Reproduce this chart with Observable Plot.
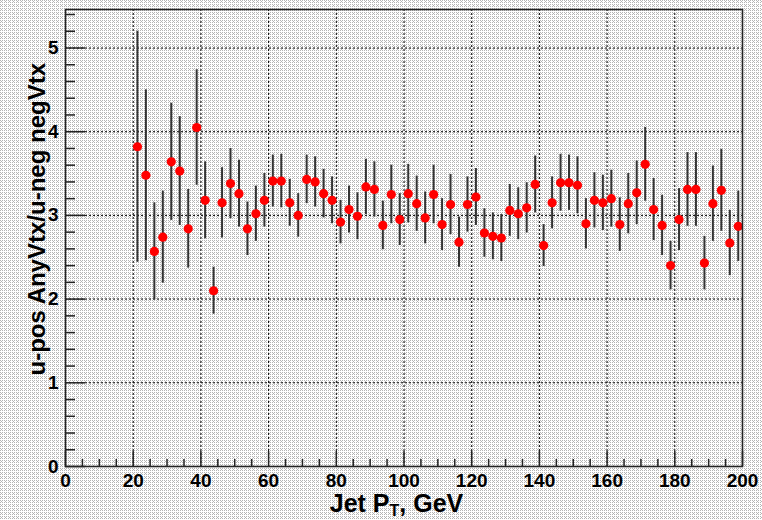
<!DOCTYPE html>
<html>
<head>
<meta charset="utf-8">
<script src="https://cdn.jsdelivr.net/npm/d3@7"></script>
<script src="https://cdn.jsdelivr.net/npm/@observablehq/plot@0.6"></script>
<style>
  html, body { margin: 0; padding: 0; background: #ffffff; }
  body { width: 762px; height: 520px; overflow: hidden; }
  svg { background: transparent !important; display: block; }
</style>
</head>
<body>
<div id="chart"></div>
<script>
// Bin centers (Jet pT, GeV)
const ptBins = [21.25, 23.75, 26.25, 28.75, 31.25, 33.75, 36.25, 38.75, 41.25, 43.75, 46.25, 48.75,
  51.25, 53.75, 56.25, 58.75, 61.25, 63.75, 66.25, 68.75, 71.25, 73.75,
  76.25, 78.75, 81.25, 83.75, 86.25, 88.75, 91.25, 93.75, 96.25, 98.75,
  101.25, 103.75, 106.25, 108.75, 111.25, 113.75, 116.25, 118.75, 121.25, 123.75,
  126.25, 128.75, 131.25, 133.75, 136.25, 138.75, 141.25, 143.75, 146.25, 148.75,
  151.25, 153.75, 156.25, 158.75, 161.25, 163.75, 166.25, 168.75, 171.25, 173.75,
  176.25, 178.75, 181.25, 183.75, 186.25, 188.75, 191.25, 193.75, 196.25, 198.75];

// Ratio u-pos AnyVtx / u-neg negVtx
const ratio = [3.82, 3.48, 2.57, 2.74, 3.64, 3.53, 2.84, 4.05, 3.18, 2.10, 3.15, 3.38,
  3.26, 2.84, 3.02, 3.18, 3.41, 3.41, 3.15, 3.00, 3.43, 3.40,
  3.26, 3.18, 2.92, 3.07, 2.99, 3.34, 3.31, 2.88, 3.25, 2.95,
  3.26, 3.14, 2.97, 3.25, 2.89, 3.13, 2.68, 3.13, 3.22, 2.79,
  2.75, 2.73, 3.06, 3.02, 3.09, 3.37, 2.64, 3.15, 3.39, 3.39,
  3.36, 2.90, 3.18, 3.15, 3.20, 2.89, 3.14, 3.27, 3.61, 3.07,
  2.88, 2.40, 2.95, 3.31, 3.31, 2.43, 3.14, 3.30, 2.67, 2.87];

// Statistical errors
const ratioErr = [1.38, 1.02, 0.58, 0.55, 0.70, 0.65, 0.47, 0.69, 0.46, 0.28, 0.42, 0.42,
  0.40, 0.32, 0.33, 0.32, 0.31, 0.32, 0.28, 0.26, 0.29, 0.30,
  0.29, 0.28, 0.26, 0.28, 0.28, 0.33, 0.33, 0.29, 0.35, 0.31,
  0.35, 0.33, 0.31, 0.35, 0.31, 0.36, 0.30, 0.33, 0.34, 0.29,
  0.28, 0.28, 0.31, 0.31, 0.30, 0.34, 0.25, 0.31, 0.34, 0.33,
  0.34, 0.30, 0.33, 0.33, 0.34, 0.32, 0.36, 0.38, 0.44, 0.37,
  0.36, 0.29, 0.37, 0.44, 0.44, 0.32, 0.45, 0.49, 0.39, 0.42];

// Axis ticks
const xMajorTicks = [0, 20, 40, 60, 80, 100, 120, 140, 160, 180, 200];
const xMinorTicks = [5, 10, 15, 25, 30, 35, 45, 50, 55, 65, 70, 75, 85, 90, 95, 105, 110, 115,
  125, 130, 135, 145, 150, 155, 165, 170, 175, 185, 190, 195];
const yMajorTicks = [0, 1, 2, 3, 4, 5];
const yMinorTicks = [0.2, 0.4, 0.6, 0.8, 1.2, 1.4, 1.6, 1.8, 2.2, 2.4, 2.6, 2.8, 3.2, 3.4, 3.6, 3.8,
  4.2, 4.4, 4.6, 4.8, 5.2, 5.4];
const xGrid = [20, 40, 60, 80, 100, 120, 140, 160, 180];
const yGrid = [1, 2, 3, 4, 5];

const xTitle = ["Jet P", "T", ", GeV"];
const yTitle = "u-pos AnyVtx/u-neg negVtx";

const data = ptBins.map((x, i) => ({x, y: ratio[i], lo: ratio[i] - ratioErr[i], hi: ratio[i] + ratioErr[i]}));

const W = 762, H = 520;
const mL = 65, mR = 20, mT = 9, mB = 54;
const plotW = W - mL - mR, plotH = H - mT - mB;
const FONT = "'Liberation Sans', Arial, Helvetica, sans-serif";

const svg = Plot.plot({
  width: W,
  height: H,
  marginLeft: mL,
  marginRight: mR,
  marginTop: mT,
  marginBottom: mB,
  style: {background: "transparent", fontFamily: FONT, fontWeight: "bold", color: "black"},
  x: {domain: [0, 200]},
  y: {domain: [0, 5.46]},
  marks: [
    Plot.ruleX(xGrid, {x: d => d, stroke: "black", strokeWidth: 1, strokeDasharray: "2,2"}),
    Plot.ruleY(yGrid, {y: d => d, stroke: "black", strokeWidth: 1, strokeDasharray: "2,2"}),
    Plot.tickX(xMajorTicks, {x: d => d, insetTop: plotH - 15, stroke: "#222", strokeWidth: 1.5}),
    Plot.tickX(xMinorTicks, {x: d => d, insetTop: plotH - 7, stroke: "#222", strokeWidth: 1.5}),
    Plot.tickY(yMajorTicks, {y: d => d, insetRight: plotW - 20, stroke: "#222", strokeWidth: 1.5}),
    Plot.tickY(yMinorTicks, {y: d => d, insetRight: plotW - 10, stroke: "#222", strokeWidth: 1.5}),
    Plot.ruleX(data, {x: "x", y1: "lo", y2: "hi", stroke: "#333", strokeWidth: 2}),
    Plot.dot(data, {x: "x", y: "y", r: 4.6, fill: "#ff0000", stroke: "none"}),
    Plot.frame({stroke: "#222", strokeWidth: 1.6}),
    Plot.axisX({ticks: xMajorTicks, tickSize: 0, tickPadding: 7, fontSize: 19, fontWeight: "bold", label: null, tickFormat: d => String(d)}),
    Plot.axisY({ticks: yMajorTicks, tickSize: 0, tickPadding: 7, fontSize: 19, fontWeight: "bold", label: null, tickFormat: d => String(d)})
  ]
});

const s = d3.select(svg);
// ROOT-like stippled fill for the canvas background
const defs = s.insert("defs", ":first-child");
const pat = defs.append("pattern")
  .attr("id", "stipple")
  .attr("patternUnits", "userSpaceOnUse")
  .attr("width", 4).attr("height", 4);
pat.append("rect").attr("width", 4).attr("height", 4).attr("fill", "#ffffff");
[[0, 0], [2, 0], [0, 2], [2, 2], [1, 1]].forEach(([px, py]) =>
  pat.append("rect").attr("x", px).attr("y", py).attr("width", 1).attr("height", 1).attr("fill", "#b4b4b4"));
s.insert("rect", "defs + *")
  .attr("width", W).attr("height", H)
  .attr("fill", "url(#stipple)")
  .attr("shape-rendering", "crispEdges");

const xt = s.append("text")
  .attr("x", mL + plotW / 2 - 7)
  .attr("y", 512)
  .attr("text-anchor", "middle")
  .attr("font-family", FONT)
  .attr("font-weight", "bold")
  .attr("font-size", 25)
  .attr("fill", "black");
xt.append("tspan").text(xTitle[0]);
xt.append("tspan").attr("dy", 4).attr("font-size", 16).text(xTitle[1]);
xt.append("tspan").attr("dy", -4).text(xTitle[2]);

s.append("text")
  .attr("transform", `translate(45, 63) rotate(-90)`)
  .attr("text-anchor", "end")
  .attr("font-family", FONT)
  .attr("font-weight", "bold")
  .attr("font-size", 24)
  .attr("fill", "black")
  .text(yTitle);

document.getElementById("chart").appendChild(svg);
</script>
</body>
</html>
